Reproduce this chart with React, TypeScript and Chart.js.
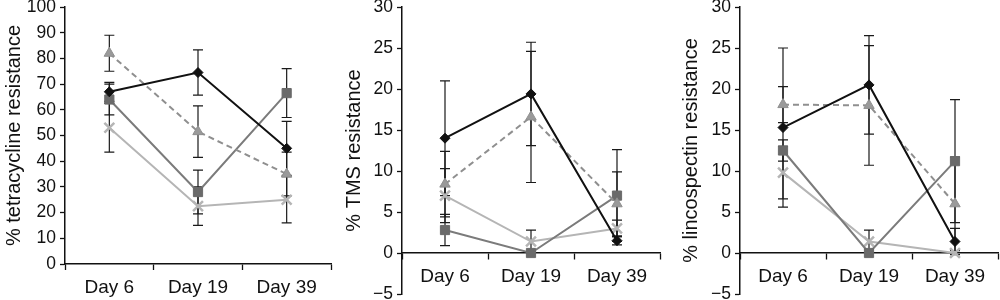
import React, { useEffect, useRef } from "react";
import { Chart, registerables } from "chart.js";
Chart.register(...registerables);

const days = ["Day 6", "Day 19", "Day 39"];

// Panel 1: tetracycline
const tetBlack = [67, 74.5, 45];
const tetBlackErr = [3.7, 8.8, 10.5];
const tetSquare = [64, 28, 66.5];
const tetSquareErr = [6, 8.5, 9.5];
const tetTriangle = [82, 51.5, 35];
const tetTriangleErr = [7, 10, 8.5];
const tetCross = [53, 22.5, 25];
const tetCrossErr = [9.5, 7.5, 9];

// Panel 2: TMS
const tmsBlack = [14, 19.4, 1.5];
const tmsBlackErr = [7, 6.3, 0.5];
const tmsSquare = [2.8, 0, 7];
const tmsSquareErr = [1.9, 0, 5.6];
const tmsTriangle = [8.4, 16.6, 6];
const tmsTriangleErr = [4, 8, 3.9];
const tmsCross = [7, 1.4, 3];
const tmsCrossErr = [3.3, 1.4, 1];

// Panel 3: lincospectin
const linBlack = [15.3, 20.5, 1.4];
const linBlackErr = [9.7, 6, 1.6];
const linSquare = [12.5, 0, 11.2];
const linSquareErr = [1.3, 0, 7.5];
const linTriangle = [18.1, 18, 6];
const linTriangleErr = [2.2, 7.3, 5.7];
const linCross = [9.8, 1.4, 0];
const linCrossErr = [3.2, 1.4, 0];

const FONT = "'Liberation Sans', Arial, Helvetica, sans-serif";

const errorBarPlugin = {
  id: "errorBars",
  beforeDatasetsDraw(chart: any) {
    const ctx = chart.ctx;
    const y = chart.scales.y;
    ctx.save();
    ctx.strokeStyle = "#1a1a1a";
    ctx.lineWidth = 1.2;
    chart.data.datasets.forEach((ds: any, i: number) => {
      const meta = chart.getDatasetMeta(i);
      const errs = ds.errors;
      if (!errs) return;
      meta.data.forEach((pt: any, j: number) => {
        const v = ds.data[j];
        const e = errs[j];
        if (!e) return;
        const top = y.getPixelForValue(v + e);
        const bot = y.getPixelForValue(v - e);
        const x = pt.x;
        ctx.beginPath();
        ctx.moveTo(x, top);
        ctx.lineTo(x, bot);
        ctx.moveTo(x - 5, top);
        ctx.lineTo(x + 5, top);
        ctx.moveTo(x - 5, bot);
        ctx.lineTo(x + 5, bot);
        ctx.stroke();
      });
    });
    ctx.restore();
  },
};

function makeDatasets(black: number[], blackErr: number[], square: number[], squareErr: number[], tri: number[], triErr: number[], cross: number[], crossErr: number[]) {
  return [
    {
      data: black, errors: blackErr,
      borderColor: "#111111", backgroundColor: "#111111", borderWidth: 2,
      pointStyle: "rectRot", pointRadius: 5, pointBorderWidth: 1,
    },
    {
      data: tri, errors: triErr,
      borderColor: "#8f8f8f", backgroundColor: "#9a9a9a", borderWidth: 2, borderDash: [6, 4],
      pointStyle: "triangle", pointRadius: 6, pointBorderWidth: 1,
    },
    {
      data: square, errors: squareErr,
      borderColor: "#7b7b7b", backgroundColor: "#6a6a6a", borderWidth: 2,
      pointStyle: "rect", pointRadius: 6.5, pointBorderWidth: 1, pointBorderColor: "#6a6a6a",
    },
    {
      data: cross, errors: crossErr,
      borderColor: "#b5b5b5", backgroundColor: "#b5b5b5", borderWidth: 2,
      pointStyle: "crossRot", pointRadius: 7, pointBorderWidth: 2.5,
    },
  ];
}

type PanelCfg = {
  left: number;
  width: number;
  title: string;
  min: number;
  max: number;
  step: number;
  yWidth: number;
  padRight: number;
  padBottom: number;
  titlePad: number;
  crossAtZero: boolean;
  datasets: any[];
};

function Panel({ cfg }: { cfg: PanelCfg }) {
  const ref = useRef<HTMLCanvasElement | null>(null);
  useEffect(() => {
    if (!ref.current) return;
    const xScale: any = {
      type: "category",
      offset: true,
      grid: { display: true, drawOnChartArea: false, drawTicks: true, tickLength: 6, tickWidth: 1.3, tickColor: "#111", offset: true },
      border: { display: true, color: "#111", width: 1.5 },
      ticks: { color: "#111", font: { family: FONT, size: 19 }, padding: 6, maxRotation: 0, autoSkip: false },
    };
    if (cfg.crossAtZero) {
      xScale.position = { y: 0 };
      xScale.afterFit = (s: any) => { s.paddingLeft = 0; s.paddingRight = 0; };
    } else {
      xScale.position = "bottom";
      xScale.afterFit = (s: any) => { s.height = 300 - 264; s.paddingLeft = 0; s.paddingRight = 0; };
    }
    const chart = new Chart(ref.current, {
      type: "line",
      data: { labels: days, datasets: cfg.datasets },
      options: {
        animation: false,
        responsive: false,
        layout: { autoPadding: false, padding: { left: 0, right: cfg.padRight, top: 7, bottom: cfg.padBottom } },
        plugins: { legend: { display: false }, tooltip: { enabled: false } },
        scales: {
          x: xScale,
          y: {
            position: "left",
            min: cfg.min,
            max: cfg.max,
            afterFit: (s: any) => { s.width = cfg.yWidth; s.paddingTop = 0; s.paddingBottom = 0; },
            grid: { display: true, drawOnChartArea: false, drawTicks: true, tickLength: 5, tickWidth: 1.3, tickColor: "#111" },
            border: { display: true, color: "#111", width: 1.5 },
            ticks: {
              stepSize: cfg.step,
              color: "#111",
              padding: 4,
              font: { family: FONT, size: 17.5 },
              callback: (v: any) => String(v).replace("-", "\u2212"),
            },
            title: { display: true, text: cfg.title, color: "#111", font: { family: FONT, size: 20 }, padding: { top: cfg.titlePad, bottom: 0 } },
          },
        },
      } as any,
      plugins: [errorBarPlugin],
    });
    return () => chart.destroy();
  }, []);
  return (
    <canvas
      ref={ref}
      width={cfg.width}
      height={300}
      style={{ position: "absolute", left: cfg.left, top: 0, width: cfg.width, height: 300 }}
    />
  );
}

const panels: PanelCfg[] = [
  {
    left: 0, width: 340, title: "% tetracycline resistance", min: 0, max: 100, step: 10,
    yWidth: 65, padRight: 9, padBottom: 0, titlePad: 2, crossAtZero: false,
    datasets: makeDatasets(tetBlack, tetBlackErr, tetSquare, tetSquareErr, tetTriangle, tetTriangleErr, tetCross, tetCrossErr),
  },
  {
    left: 330, width: 340, title: "% TMS resistance", min: -5, max: 30, step: 5,
    yWidth: 72, padRight: 10, padBottom: 6, titlePad: 12, crossAtZero: true,
    datasets: makeDatasets(tmsBlack, tmsBlackErr, tmsSquare, tmsSquareErr, tmsTriangle, tmsTriangleErr, tmsCross, tmsCrossErr),
  },
  {
    left: 660, width: 340, title: "% lincospectin resistance", min: -5, max: 30, step: 5,
    yWidth: 80, padRight: 2, padBottom: 6, titlePad: 19, crossAtZero: true,
    datasets: makeDatasets(linBlack, linBlackErr, linSquare, linSquareErr, linTriangle, linTriangleErr, linCross, linCrossErr),
  },
];

export default function App() {
  return (
    <div style={{ position: "absolute", left: 0, top: 0, width: 1000, height: 300, background: "#fff" }}>
      {panels.map((p, i) => (
        <Panel key={i} cfg={p} />
      ))}
    </div>
  );
}
